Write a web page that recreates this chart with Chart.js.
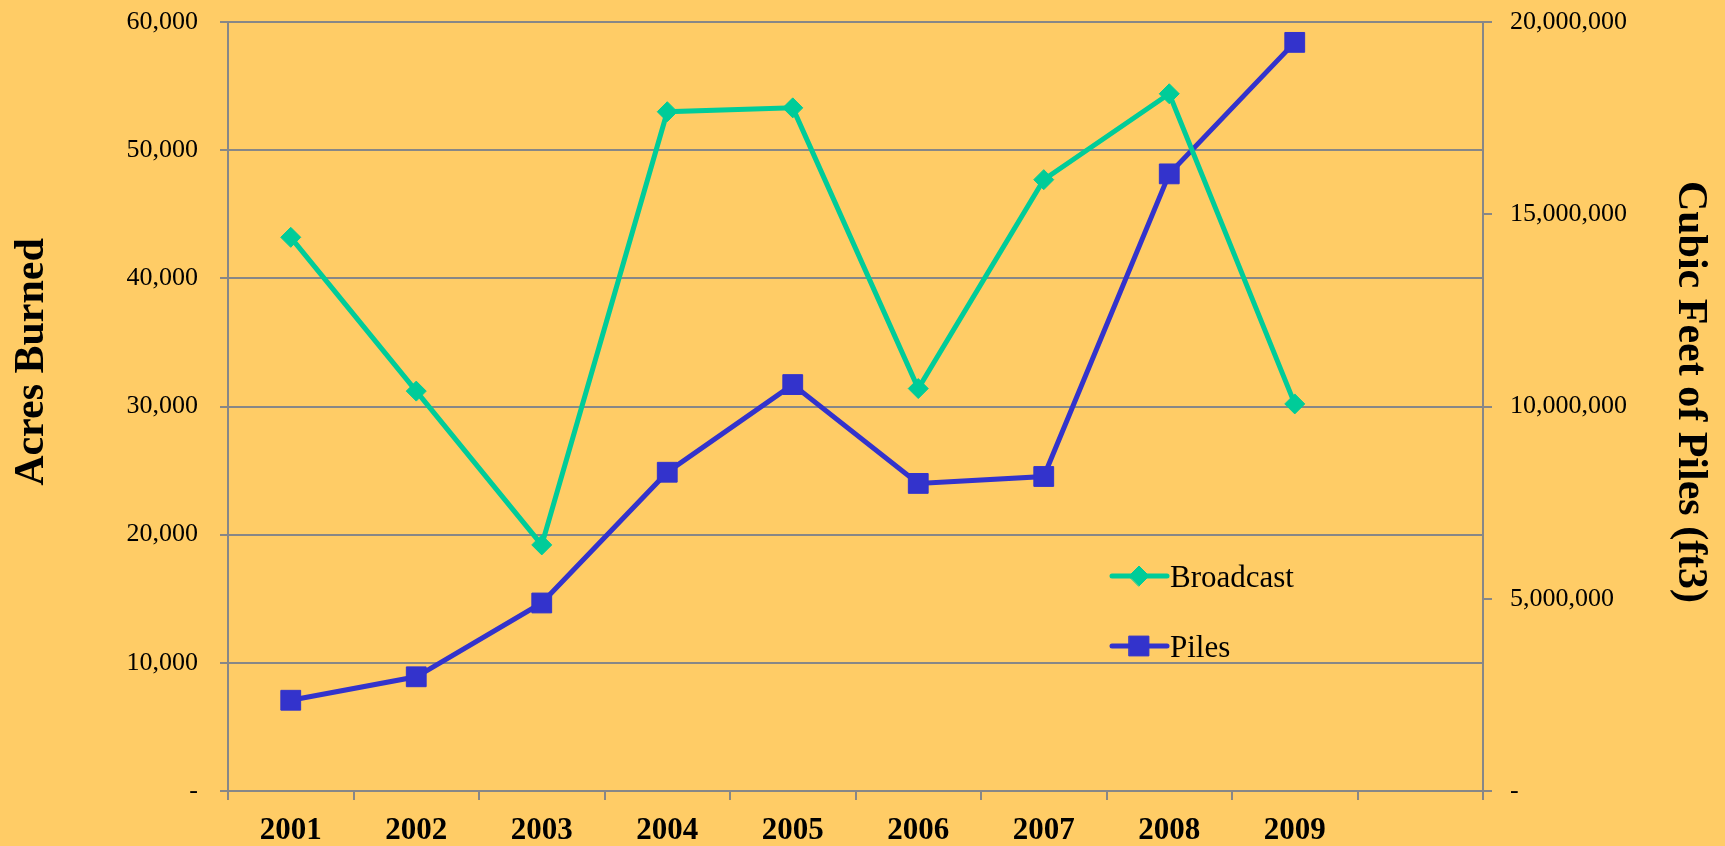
<!DOCTYPE html>
<html>
<head>
<meta charset="utf-8">
<script src="https://cdn.jsdelivr.net/npm/chart.js@4"></script>
<style>
  html, body { margin: 0; padding: 0; background: #FFCC66; }
  canvas { display: block; }
</style>
</head>
<body>
<canvas id="c" width="1725" height="846"></canvas>
<script>
// ---- data ----
const years = ['2001', '2002', '2003', '2004', '2005', '2006', '2007', '2008', '2009', ''];
const broadcastAcres = [43200, 31200, 19200, 53000, 53300, 31400, 47700, 54400, 30200];
const pilesCubicFeet = [2360000, 2970000, 4890000, 8290000, 10570000, 8000000, 8180000, 16050000, 19470000];
const seriesNames = ['Broadcast', 'Piles'];
const leftAxisTitle = 'Acres Burned';
const rightAxisTitle = 'Cubic Feet of Piles (ft3)';

// ---- styles ----
const FONT = "'Liberation Serif', 'Times New Roman', serif";
const GRID = '#878787';
const GREEN = '#00CC99';
const BLUE = '#3333CC';

function fmt(v) {
  if (v === 0) return '-';
  return String(v).replace(/\B(?=(\d{3})+(?!\d))/g, ',');
}

const axisTitlePlugin = {
  id: 'axisTitles',
  afterDraw(chart) {
    const ctx = chart.ctx;
    ctx.save();
    ctx.fillStyle = '#000';
    ctx.font = 'bold 42px ' + FONT;
    ctx.textAlign = 'center';
    ctx.textBaseline = 'middle';
    ctx.save();
    ctx.translate(32, 362);
    ctx.rotate(-Math.PI / 2);
    ctx.fillText(leftAxisTitle, 0, 0);
    ctx.restore();
    ctx.save();
    ctx.translate(1690, 392);
    ctx.rotate(Math.PI / 2);
    ctx.fillText(rightAxisTitle, 0, 0);
    ctx.restore();
    ctx.restore();
  }
};

const insideLegendPlugin = {
  id: 'insideLegend',
  afterDraw(chart) {
    const ctx = chart.ctx;
    const rows = [576, 646];
    chart.data.datasets.forEach((ds, i) => {
      const y = rows[i];
      ctx.save();
      ctx.strokeStyle = ds.borderColor;
      ctx.lineWidth = 5;
      ctx.lineCap = 'round';
      ctx.beginPath();
      ctx.moveTo(1112, y);
      ctx.lineTo(1167, y);
      ctx.stroke();
      ctx.fillStyle = ds.pointBackgroundColor;
      ctx.strokeStyle = ds.pointBorderColor;
      ctx.lineWidth = 1;
      Chart.helpers.drawPoint(ctx, {
        pointStyle: ds.pointStyle,
        radius: ds.pointRadius,
        rotation: 0,
        borderWidth: 1
      }, 1139, y);
      ctx.fillStyle = '#000';
      ctx.font = '31px ' + FONT;
      ctx.textAlign = 'left';
      ctx.textBaseline = 'middle';
      ctx.fillText(ds.label, 1170, y + 3);
      ctx.restore();
    });
  }
};

function fixVertical(width) {
  return function (s) {
    s.width = width;
    s.paddingTop = 0;
    s.paddingBottom = 0;
  };
}

new Chart(document.getElementById('c'), {
  type: 'line',
  data: {
    labels: years,
    datasets: [
      {
        label: seriesNames[0],
        data: broadcastAcres,
        yAxisID: 'y',
        borderColor: GREEN,
        backgroundColor: GREEN,
        borderWidth: 5,
        pointStyle: 'rectRot',
        pointRadius: 10,
        pointBackgroundColor: GREEN,
        pointBorderColor: GREEN,
        pointBorderWidth: 1,
        tension: 0,
        fill: false
      },
      {
        label: seriesNames[1],
        data: pilesCubicFeet,
        yAxisID: 'y1',
        borderColor: BLUE,
        backgroundColor: BLUE,
        borderWidth: 5,
        pointStyle: 'rect',
        pointRadius: 14,
        pointBackgroundColor: BLUE,
        pointBorderColor: BLUE,
        pointBorderWidth: 1,
        tension: 0,
        fill: false
      }
    ]
  },
  options: {
    responsive: false,
    devicePixelRatio: 1,
    animation: false,
    layout: { padding: { top: 22, left: 0, right: 0, bottom: 0 } },
    plugins: {
      legend: { display: false },
      tooltip: { enabled: false },
      title: { display: false }
    },
    scales: {
      x: {
        type: 'category',
        offset: true,
        grid: {
          offset: true,
          drawOnChartArea: false,
          color: GRID,
          lineWidth: 2,
          tickLength: 9
        },
        border: { color: GRID, width: 2 },
        ticks: {
          color: '#000',
          font: { family: FONT, size: 31, weight: 'bold' },
          padding: 12,
          maxRotation: 0,
          autoSkip: false
        },
        afterFit(s) { s.height = 55; }
      },
      y: {
        position: 'left',
        min: 0,
        max: 60000,
        grid: { color: GRID, lineWidth: 2, tickLength: 8 },
        border: { color: GRID, width: 2 },
        ticks: {
          stepSize: 10000,
          color: '#000',
          font: { family: FONT, size: 26 },
          padding: 22,
          callback: (v) => fmt(v)
        },
        afterFit: fixVertical(228)
      },
      y1: {
        position: 'right',
        min: 0,
        max: 20000000,
        grid: { drawOnChartArea: false, color: GRID, lineWidth: 2, tickLength: 9 },
        border: { color: GRID, width: 2 },
        ticks: {
          stepSize: 5000000,
          color: '#000',
          font: { family: FONT, size: 26 },
          padding: 18,
          callback: (v) => fmt(v)
        },
        afterFit: fixVertical(242)
      }
    }
  },
  plugins: [axisTitlePlugin, insideLegendPlugin]
});
</script>
</body>
</html>
